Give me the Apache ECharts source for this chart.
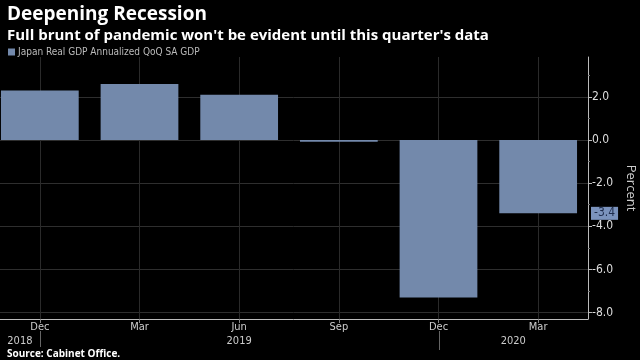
<!DOCTYPE html>
<html>
<head>
<meta charset="utf-8">
<script src="https://cdn.jsdelivr.net/npm/echarts@6/dist/echarts.min.js"></script>
<style>
html,body{margin:0;padding:0;background:#000;}
#c{width:640px;height:360px;}
</style>
</head>
<body>
<div id="c"></div>
<script>
// ---- data ----
var categories = ['Dec', 'Mar', 'Jun', 'Sep', 'Dec', 'Mar'];
var gdpValues = [2.3, 2.6, 2.1, -0.08, -7.3, -3.4];
var seriesName = 'Japan Real GDP Annualized QoQ SA GDP';
var yTicks = [-8, -6, -4, -2, 0, 2];
var yMinorTicks = [-7, -5, -3, -1, 1, 3];
var yearLabels = ['2018', '2019', '2020'];
var yearStartIndex = [4]; // Dec 2019 separator
var lastValueLabel = '-3.4';

var titleText = 'Deepening Recession';
var subtitleText = "Full brunt of pandemic won't be evident until this quarter's data";
var sourceText = 'Source: Cabinet Office.';

var barColor = '#7389ab';
var narrow = '"Liberation Sans Narrow","DejaVu Sans Condensed",sans-serif';
var bold = '"Open Sans",sans-serif';

var chart = echarts.init(document.getElementById('c'), null, {renderer: 'canvas'});

var option = {
  backgroundColor: '#000',
  animation: false,
  title: [
    {text: titleText, left: 2, top: 0,
     textStyle: {color: '#fff', fontSize: 19, fontWeight: 'bold', fontFamily: bold}},
    {text: subtitleText, left: 2, top: 23,
     textStyle: {color: '#fff', fontSize: 15, fontWeight: 'bold', fontFamily: bold}},
    {text: sourceText, left: 2, top: 344,
     textStyle: {color: '#fff', fontSize: 10, fontWeight: 'bold', fontFamily: bold}}
  ],
  legend: {
    left: 3, top: 42, itemWidth: 7, itemHeight: 7, icon: 'rect', itemGap: 4,
    textStyle: {color: '#bbb', fontSize: 10, fontFamily: narrow, padding: [0,0,0,-2]},
    data: [seriesName]
  },
  grid: {left: -10, right: 52, top: 57, bottom: 41, containLabel: false, outerBoundsMode: 'none'},
  xAxis: {
    type: 'category',
    data: categories,
    axisLine: {show: true, onZero: false, lineStyle: {color: '#bbb', width: 1}},
    axisTick: {show: true, alignWithLabel: true, length: 4, lineStyle: {color: '#888'}},
    splitLine: {show: true, alignWithLabel: true, lineStyle: {color: '#2a2a2a', width: 1}},
    axisLabel: {color: '#ccc', fontSize: 11, fontFamily: narrow, margin: 3}
  },
  yAxis: [{
    type: 'value',
    position: 'right',
    min: -8.3, max: 3.85,
    name: 'Percent', nameLocation: 'middle', nameRotate: -90, nameGap: 36,
    nameTextStyle: {color: '#ccc', fontSize: 13, fontFamily: '"Open Sans",sans-serif'},
    axisLine: {show: true, lineStyle: {color: '#bbb', width: 1}},
    axisTick: {show: true, length: 4, customValues: yTicks, lineStyle: {color: '#bbb'}},
    splitLine: {show: true, lineStyle: {color: '#2e2e2e', width: 1}},
    axisLabel: {color: '#ddd', fontSize: 12, fontFamily: narrow, margin: 4,
      customValues: yTicks,
      formatter: function (v) { return v.toFixed(1); }}
  }, {
    type: 'value',
    position: 'right',
    min: -8.3, max: 3.85,
    axisLine: {show: false},
    axisTick: {show: true, length: 2, customValues: yMinorTicks, lineStyle: {color: '#777'}},
    splitLine: {show: false},
    axisLabel: {show: false}
  }],
  series: [{
    name: seriesName,
    type: 'bar',
    data: gdpValues,
    barCategoryGap: '22%',
    itemStyle: {color: barColor},
    markLine: {
      silent: true, symbol: 'none',
      lineStyle: {width: 1, color: 'rgba(0,0,0,0)'},
      data: [{yAxis: gdpValues[gdpValues.length - 1]}],
      label: {show: true, position: 'end', distance: 3,
        formatter: lastValueLabel,
        backgroundColor: '#7b93bd', color: '#1f2d4d',
        fontSize: 12, fontFamily: narrow, padding: [1, 3, 0, 3]}
    }
  }]
};
chart.setOption(option);

// year labels and separators positioned through the axis scale
function px(i) { return chart.convertToPixel({xAxisIndex: 0}, i); }
var gridRect = chart.getModel().getComponent('grid').coordinateSystem.getRect();
var xStart = 0;
var xEnd = gridRect.x + gridRect.width;
var xDec18 = px(0), xDec19 = px(yearStartIndex[0]);
var centers = [(xStart + xDec18) / 2, (xDec18 + xDec19) / 2, (xDec19 + xEnd) / 2];
var graphics = [];
for (var i = 0; i < yearLabels.length; i++) {
  graphics.push({type: 'text', x: centers[i], y: 341, style: {
    text: yearLabels[i], fill: '#ccc', font: '11px ' + narrow, textAlign: 'center', textVerticalAlign: 'middle'}});
}
graphics.push({type: 'line', shape: {x1: Math.round(xDec18) + 0.5, y1: 331, x2: Math.round(xDec18) + 0.5, y2: 347}, style: {stroke: '#666', lineWidth: 1}});
graphics.push({type: 'line', shape: {x1: Math.round(xDec19) + 0.5, y1: 331, x2: Math.round(xDec19) + 0.5, y2: 350}, style: {stroke: '#666', lineWidth: 1}});
chart.setOption({graphic: graphics});
</script>
</body>
</html>
